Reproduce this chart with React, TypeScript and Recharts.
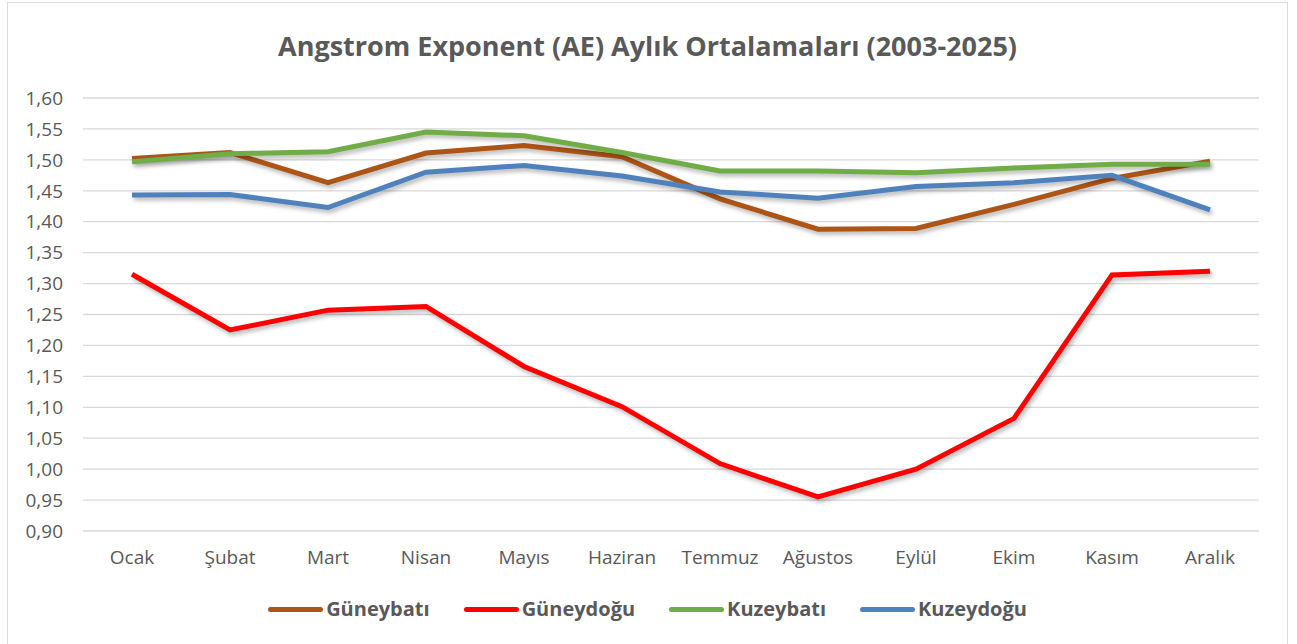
import React from 'react';
import { LineChart, Line, XAxis, YAxis, CartesianGrid } from 'recharts';

const months = ['Ocak', 'Şubat', 'Mart', 'Nisan', 'Mayıs', 'Haziran', 'Temmuz', 'Ağustos', 'Eylül', 'Ekim', 'Kasım', 'Aralık'];

const guneybati = [1.502, 1.512, 1.463, 1.511, 1.523, 1.505, 1.437, 1.388, 1.389, 1.428, 1.470, 1.498];
const guneydogu = [1.315, 1.225, 1.257, 1.263, 1.166, 1.101, 1.009, 0.955, 1.000, 1.082, 1.314, 1.320];
const kuzeybati = [1.497, 1.510, 1.513, 1.545, 1.539, 1.512, 1.482, 1.482, 1.479, 1.487, 1.493, 1.493];
const kuzeydogu = [1.443, 1.444, 1.423, 1.480, 1.491, 1.474, 1.448, 1.438, 1.457, 1.463, 1.475, 1.419];

const yTicks = [0.9, 0.95, 1.0, 1.05, 1.1, 1.15, 1.2, 1.25, 1.3, 1.35, 1.4, 1.45, 1.5, 1.55, 1.6];

const series = [
  { key: 'Güneybatı', values: guneybati, color: '#AD5516' },
  { key: 'Güneydoğu', values: guneydogu, color: '#FF0000' },
  { key: 'Kuzeybatı', values: kuzeybati, color: '#70AD47' },
  { key: 'Kuzeydoğu', values: kuzeydogu, color: '#4F81BD' },
];

const data = months.map((m, i) => {
  const row: Record<string, string | number> = { month: m };
  series.forEach((s) => (row[s.key] = s.values[i]));
  return row;
});

const font = '"Open Sans", Lato, sans-serif';

export default function App() {
  return (
    <div style={{ position: 'absolute', left: 7, top: 2, width: 1279, height: 650, border: '1px solid #d9d9d9', background: '#fff' }}>
      <style>{`.recharts-line-curve { filter: drop-shadow(2px 3px 2px rgba(0,0,0,0.28)); }`}</style>
      <div style={{ position: 'absolute', top: 25, left: 0, width: '100%', lineHeight: '36px', textAlign: 'center', fontFamily: font, fontWeight: 700, fontSize: 27, color: '#595959' }}>
        Angstrom Exponent (AE) Aylık Ortalamaları (2003-2025)
      </div>
      <LineChart width={1279} height={640} data={data} margin={{ top: 95, right: 28, bottom: 0, left: 0 }}>
        <CartesianGrid vertical={false} stroke="#d9d9d9" strokeWidth={1.3} />
        <XAxis
          dataKey="month"
          axisLine={false}
          tickLine={false}
          padding={{ left: 49, right: 49 }}
          tick={{ fill: '#595959', fontSize: 19, fontFamily: font }}
          tickMargin={14}
          height={112}
        />
        <YAxis
          domain={[0.9, 1.6]}
          ticks={yTicks}
          interval={0}
          axisLine={false}
          tickLine={false}
          width={75}
          tickMargin={14}
          tickFormatter={(v: number) => v.toFixed(2).replace('.', ',')}
          tick={{ fill: '#595959', fontSize: 19, fontFamily: font }}
        />
        {series.map((s) => (
          <Line
            key={s.key}
            dataKey={s.key}
            stroke={s.color}
            strokeWidth={5}
            dot={false}
            activeDot={false}
            isAnimationActive={false}
          />
        ))}
      </LineChart>
      <div style={{ position: 'absolute', top: 592, left: 0, width: '100%', lineHeight: '28px', display: 'flex', justifyContent: 'center', fontFamily: font, fontWeight: 700, fontSize: 20, color: '#595959' }}>
        {series.map((s) => (
          <div key={s.key} style={{ display: 'flex', alignItems: 'center', margin: '0 17px' }}>
            <div style={{ width: 55, height: 5, borderRadius: 3, background: s.color, marginRight: 3 }} />
            <span>{s.key}</span>
          </div>
        ))}
      </div>
    </div>
  );
}
